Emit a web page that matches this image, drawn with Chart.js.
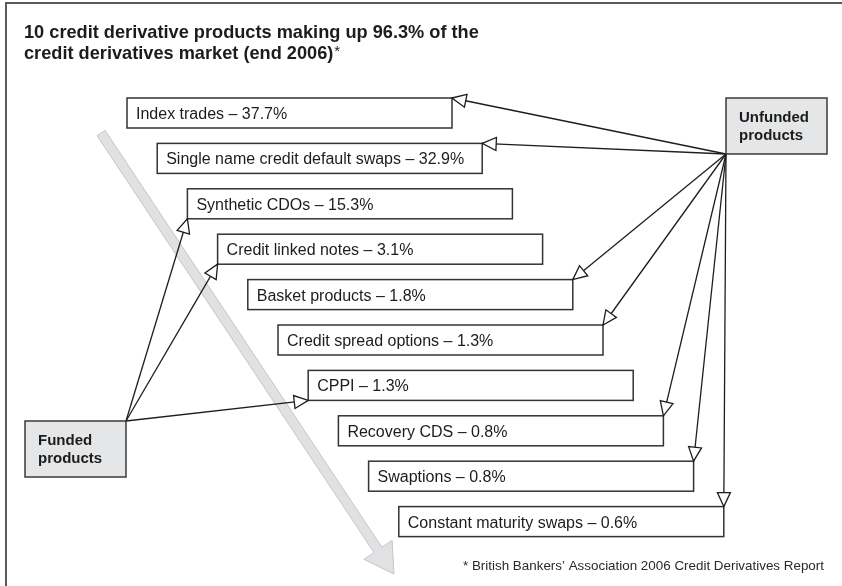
<!DOCTYPE html>
<html>
<head>
<meta charset="utf-8">
<title>Credit derivative products</title>
<script src="https://cdn.jsdelivr.net/npm/chart.js@4.4.1/dist/chart.umd.min.js"></script>
<style>
    html, body { margin: 0; padding: 0; background: #fff; }
    #diagram-wrap { width: 842px; height: 586px; }
</style>
</head>
<body>
<div id="diagram-wrap"><canvas id="products-chart" width="842" height="586"></canvas></div>
<script>
// Chart data
var titleLines = ['10 credit derivative products making up 96.3% of the', 'credit derivatives market (end 2006)*'];
var products = ['Index trades', 'Single name credit default swaps', 'Synthetic CDOs', 'Credit linked notes',
    'Basket products', 'Credit spread options', 'CPPI', 'Recovery CDS', 'Swaptions', 'Constant maturity swaps'];
var shares = [37.7, 32.9, 15.3, 3.1, 1.8, 1.3, 1.3, 0.8, 0.8, 0.6];
var funding = ['unfunded', 'unfunded', 'funded', 'funded', 'unfunded', 'unfunded', 'funded', 'unfunded', 'unfunded', 'unfunded'];
var groupLabels = { unfunded: ['Unfunded', 'products'], funded: ['Funded', 'products'] };
var footnote = '* British Bankers\u2019 Association 2006 Credit Derivatives Report';

(function() {
    'use strict';

    var FONT = '"Liberation Sans", Arial, Helvetica, sans-serif';

    // Page layout (pixels in the 842 x 586 frame)
    var layout = {
        width: 842,
        height: 586,
        box: { left: 127, top: 98, stepX: 30.2, stepY: 45.4, w: 325, h: 30 },
        groups: {
            unfunded: { x: 726, y: 98, w: 101, h: 56 },
            funded: { x: 25, y: 421, w: 101, h: 56 }
        },
        bigArrow: { x0: 101, y0: 133, x1: 394, y1: 574 }
    };

    var ProductsDiagram = {
        chart: null,

        init: function() {
            var canvas = document.getElementById('products-chart');
            if (!canvas) return;
            this.render(canvas);
        },

        boxRect: function(i) {
            var b = layout.box;
            return { x: b.left + i * b.stepX, y: b.top + i * b.stepY, w: b.w, h: b.h };
        },

        // start and end of each connector
        connector: function(i) {
            var r = this.boxRect(i);
            var g = layout.groups[funding[i]];
            if (funding[i] === 'unfunded') {
                return { from: { x: g.x, y: g.y + g.h }, to: { x: r.x + r.w, y: r.y } };
            }
            return { from: { x: g.x + g.w, y: g.y }, to: { x: r.x, y: r.y + r.h } };
        },

        buildDatasets: function() {
            var self = this;
            return products.map(function(name, i) {
                var c = self.connector(i);
                return {
                    label: name,
                    data: [c.from, c.to],
                    showLine: true,
                    borderColor: '#1e1e1e',
                    borderWidth: 1.3,
                    pointRadius: 0,
                    fill: false
                };
            });
        },

        drawArrowHead: function(ctx, from, to) {
            var dx = to.x - from.x;
            var dy = to.y - from.y;
            var len = Math.sqrt(dx * dx + dy * dy);
            var ux = dx / len, uy = dy / len;
            var bx = to.x - ux * 14, by = to.y - uy * 14;
            ctx.beginPath();
            ctx.moveTo(to.x, to.y);
            ctx.lineTo(bx - uy * 6.5, by + ux * 6.5);
            ctx.lineTo(bx + uy * 6.5, by - ux * 6.5);
            ctx.closePath();
            ctx.fillStyle = '#fff';
            ctx.fill();
            ctx.lineWidth = 1.3;
            ctx.strokeStyle = '#1e1e1e';
            ctx.stroke();
        },

        drawBackground: function(chart) {
            var ctx = chart.ctx;
            var sx = chart.scales.x, sy = chart.scales.y;
            var px = function(v) { return sx.getPixelForValue(v); };
            var py = function(v) { return sy.getPixelForValue(v); };

            ctx.save();

            // frame (top and left edges)
            ctx.strokeStyle = '#5a5a5a';
            ctx.lineWidth = 2;
            ctx.beginPath();
            ctx.moveTo(px(6), py(586));
            ctx.lineTo(px(6), py(3));
            ctx.lineTo(px(842), py(3));
            ctx.stroke();

            // title, the trailing asterisk is set lighter
            ctx.fillStyle = '#1c1c1c';
            ctx.textBaseline = 'alphabetic';
            ctx.font = 'bold 18.2px ' + FONT;
            ctx.fillText(titleLines[0], px(24), py(37.5));
            var last = titleLines[1];
            var star = last.charAt(last.length - 1) === '*';
            var main = star ? last.slice(0, -1) : last;
            ctx.fillText(main, px(24), py(58.5));
            if (star) {
                var tw = ctx.measureText(main).width;
                ctx.font = '15px ' + FONT;
                ctx.fillText('*', px(24) + tw + 1, py(56));
            }

            // big grey arrow
            var a = layout.bigArrow;
            var p0 = { x: px(a.x0), y: py(a.y0) };
            var p1 = { x: px(a.x1), y: py(a.y1) };
            var dx = p1.x - p0.x, dy = p1.y - p0.y;
            var len = Math.sqrt(dx * dx + dy * dy);
            var ux = dx / len, uy = dy / len;
            var nx = -uy, ny = ux;
            var hw = 4.8, hl = 29, hh = 17;
            var bx = p1.x - ux * hl, by = p1.y - uy * hl;
            ctx.beginPath();
            ctx.moveTo(p0.x + nx * hw, p0.y + ny * hw);
            ctx.lineTo(bx + nx * hw, by + ny * hw);
            ctx.lineTo(bx + nx * hh, by + ny * hh);
            ctx.lineTo(p1.x, p1.y);
            ctx.lineTo(bx - nx * hh, by - ny * hh);
            ctx.lineTo(bx - nx * hw, by - ny * hw);
            ctx.lineTo(p0.x - nx * hw, p0.y - ny * hw);
            ctx.closePath();
            ctx.fillStyle = '#e1e1e3';
            ctx.fill();
            ctx.strokeStyle = '#c6c6c8';
            ctx.lineWidth = 1;
            ctx.stroke();

            // footnote
            ctx.fillStyle = '#2a2a2a';
            ctx.font = '13.4px ' + FONT;
            ctx.fillText(footnote, px(463), py(570));

            ctx.restore();
        },

        drawBoxes: function(chart) {
            var self = this;
            var ctx = chart.ctx;
            var sx = chart.scales.x, sy = chart.scales.y;
            var px = function(v) { return sx.getPixelForValue(v); };
            var py = function(v) { return sy.getPixelForValue(v); };

            ctx.save();

            products.forEach(function(name, i) {
                var r = self.boxRect(i);
                var x = px(r.x), y = py(r.y);
                var w = px(r.x + r.w) - x, h = py(r.y + r.h) - y;
                ctx.fillStyle = '#fff';
                ctx.fillRect(x, y, w, h);
                ctx.strokeStyle = '#333';
                ctx.lineWidth = 1.5;
                ctx.strokeRect(x, y, w, h);
                ctx.fillStyle = '#1c1c1c';
                ctx.font = '16px ' + FONT;
                ctx.fillText(name + ' \u2013 ' + shares[i].toFixed(1) + '%', x + 9, y + 21);
            });

            Object.keys(layout.groups).forEach(function(key) {
                var g = layout.groups[key];
                var x = px(g.x), y = py(g.y);
                var w = px(g.x + g.w) - x, h = py(g.y + g.h) - y;
                ctx.fillStyle = '#e5e6e8';
                ctx.fillRect(x, y, w, h);
                ctx.strokeStyle = '#3a3a3a';
                ctx.lineWidth = 1.5;
                ctx.strokeRect(x, y, w, h);
                ctx.fillStyle = '#1c1c1c';
                ctx.font = 'bold 15px ' + FONT;
                ctx.fillText(groupLabels[key][0], x + 13, y + 24);
                ctx.fillText(groupLabels[key][1], x + 13, y + 42);
            });

            products.forEach(function(name, i) {
                var c = self.connector(i);
                self.drawArrowHead(ctx,
                    { x: px(c.from.x), y: py(c.from.y) },
                    { x: px(c.to.x), y: py(c.to.y) });
            });

            ctx.restore();
        },

        render: function(canvas) {
            var self = this;
            var ctx = canvas.getContext('2d');

            if (this.chart) {
                this.chart.destroy();
            }

            this.chart = new Chart(ctx, {
                type: 'scatter',
                data: { datasets: this.buildDatasets() },
                options: {
                    responsive: false,
                    animation: false,
                    layout: { padding: 0 },
                    plugins: {
                        legend: { display: false },
                        tooltip: { enabled: false }
                    },
                    scales: {
                        x: { type: 'linear', min: 0, max: layout.width, display: false },
                        y: { type: 'linear', min: 0, max: layout.height, reverse: true, display: false }
                    }
                },
                plugins: [{
                    id: 'productsDiagram',
                    beforeDatasetsDraw: function(chart) { self.drawBackground(chart); },
                    afterDatasetsDraw: function(chart) { self.drawBoxes(chart); }
                }]
            });
        }
    };

    ProductsDiagram.init();
    window.ProductsDiagram = ProductsDiagram;
})();
</script>
</body>
</html>
